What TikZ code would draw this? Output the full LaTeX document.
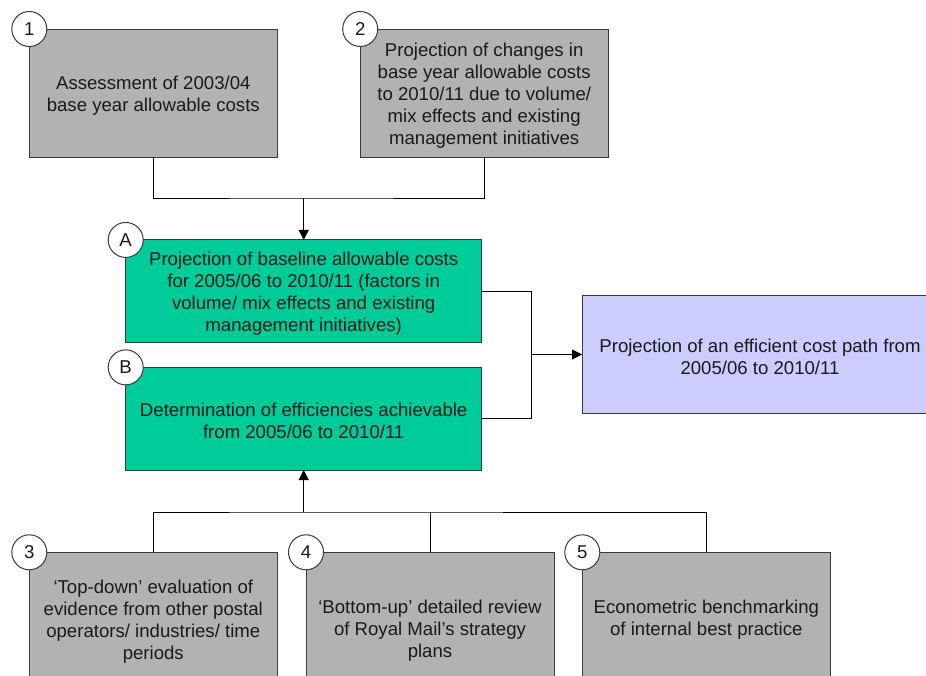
\documentclass[tikz,border=0pt]{standalone}
\usepackage{fontspec}
\setmainfont{Liberation Sans}
\usetikzlibrary{arrows.meta}
\definecolor{boxgray}{HTML}{B2B2B2}
\definecolor{boxgreen}{HTML}{00CC99}
\definecolor{boxlilac}{HTML}{CCCCFF}
\definecolor{edgegray}{HTML}{3A3A3A}
\definecolor{inkblack}{HTML}{1A1A1A}
\tikzset{
  basebox/.style={draw=edgegray, line width=1pt, inner sep=0pt, outer sep=0pt},
  graybox/.style={basebox, fill=boxgray, minimum width=248pt},
  greenbox/.style={basebox, fill=boxgreen, minimum width=356pt, minimum height=102.7pt},
  lilacbox/.style={basebox, fill=boxlilac, minimum width=356pt, minimum height=117.6pt},
  boxtext/.style={inner sep=0pt, align=center, text=inkblack,
    font=\fontsize{18.6}{22}\selectfont},
  badge/.style={circle, draw=edgegray, fill=white, line width=1pt, inner sep=0pt,
    minimum size=35pt, text=inkblack, font=\fontsize{18.6}{22}\selectfont},
  link/.style={draw=black, line width=1pt},
  linkarrow/.style={link, -{Triangle[length=10pt,width=10pt]}}
}
\begin{document}
\begin{tikzpicture}[x=1pt, y=-1pt]
  \useasboundingbox (0,0) rectangle (926,675);
  \clip (0,0) rectangle (926,675);
  \fill[white] (0,0) rectangle (926,675);

  % upper inputs
  \node[graybox, minimum height=128pt] (b1) at (153.3,93) {};
  \node[graybox, minimum height=128pt] (b2) at (484.2,93) {};

  % central steps
  \node[greenbox] (bA) at (303.7,291.3) {};
  \node[greenbox] (bB) at (303.7,418.7) {};

  % result
  \node[lilacbox] (res) at (760,354.5) {};

  % lower inputs
  \node[graybox, minimum height=134.4pt] (b3) at (153.3,619.5) {};
  \node[graybox, minimum height=153.4pt] (b4) at (430,629) {};
  \node[graybox, minimum height=131.4pt] (b5) at (706.3,618) {};

  % box texts, set slightly below the geometric centre
  \node[boxtext] (t1) at ([yshift=-3pt]b1.center)
    {Assessment of 2003/04\\base year allowable costs};
  \node[boxtext] (t2) at ([yshift=-3pt]b2.center)
    {Projection of changes in\\base year allowable costs\\to 2010/11 due to volume/\\mix effects and existing\\management initiatives};
  \node[boxtext] (tA) at ([yshift=-2pt]bA.center)
    {Projection of baseline allowable costs\\for 2005/06 to 2010/11 (factors in\\volume/ mix effects and existing\\management initiatives)};
  \node[boxtext] (tB) at ([yshift=-2pt]bB.center)
    {Determination of efficiencies achievable\\from 2005/06 to 2010/11};
  \node[boxtext] (tR) at ([yshift=-2pt]res.center)
    {Projection of an efficient cost path from\\2005/06 to 2010/11};
  \node[boxtext] (t3) at ([yshift=-2pt]b3.center)
    {‘Top-down’ evaluation of\\evidence from other postal\\operators/ industries/ time\\periods};
  \node[boxtext] (t4) at ([yshift=-2pt]b4.center)
    {‘Bottom-up’ detailed review\\of Royal Mail’s strategy\\plans};
  \node[boxtext] (t5) at ([yshift=-2pt]b5.center)
    {Econometric benchmarking\\of internal best practice};

  % junction points
  \coordinate (jtop) at (303.7,198);
  \coordinate (jright) at (531.7,354.5);
  \coordinate (jbot) at (303.7,512);

  % connectors into A
  \draw[link] (b1.south) |- (jtop) -| (b2.south);
  \draw[linkarrow] (jtop) -- (bA.north);

  % connectors into the result
  \draw[link] (bA.east) -| (jright) |- (bB.east);
  \draw[linkarrow] (jright) -- (res.west);

  % connectors into B
  \draw[link] (b3.north) |- (jbot) -| (b5.north);
  \draw[link] (b4.north) -- (b4.north |- jbot);
  \draw[linkarrow] (jbot) -- (bB.south);

  % numbered badges
  \node[badge] (n1) at (b1.north west) {1};
  \node[badge] (n2) at (b2.north west) {2};
  \node[badge] (nA) at (bA.north west) {A};
  \node[badge] (nB) at (bB.north west) {B};
  \node[badge] (n3) at (b3.north west) {3};
  \node[badge] (n4) at (b4.north west) {4};
  \node[badge] (n5) at (b5.north west) {5};
\end{tikzpicture}
\end{document}
